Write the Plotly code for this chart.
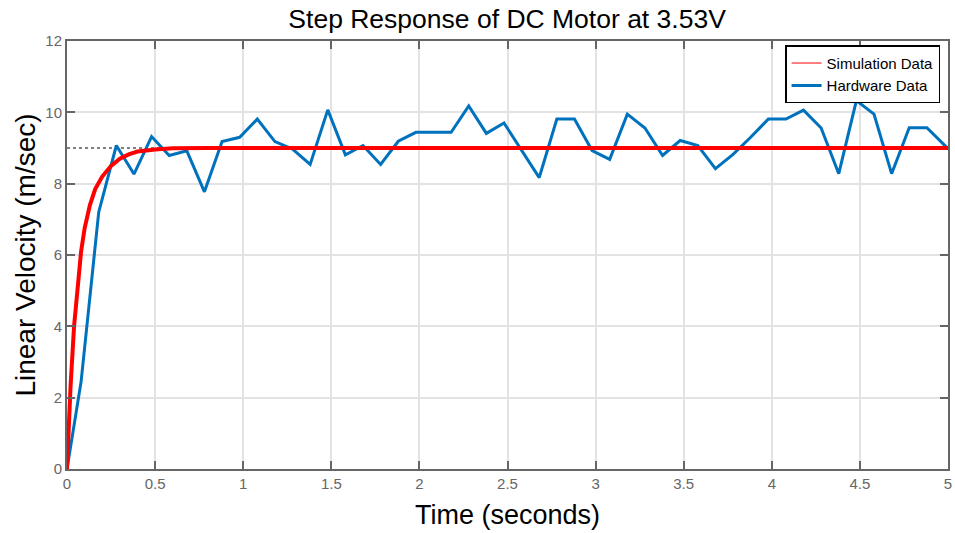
import plotly.graph_objects as go

# Hardware (measured) velocity samples
hw_time = [0.0, 0.08, 0.18, 0.28, 0.38, 0.48, 0.58, 0.68, 0.78, 0.88,
           0.98, 1.08, 1.18, 1.28, 1.38, 1.48, 1.58, 1.68, 1.78, 1.88,
           1.98, 2.08, 2.18, 2.28, 2.38, 2.48, 2.58, 2.68, 2.78, 2.88,
           2.98, 3.08, 3.18, 3.28, 3.38, 3.48, 3.58, 3.68, 3.78, 3.88,
           3.98, 4.08, 4.18, 4.28, 4.38, 4.48, 4.58, 4.68, 4.78, 4.88, 4.99]
hw_velocity = [0.0, 2.45, 7.2, 9.07, 8.27, 9.32, 8.79, 8.92, 7.77, 9.18,
               9.30, 9.81, 9.18, 8.97, 8.54, 10.07, 8.81, 9.07, 8.54, 9.19,
               9.44, 9.44, 9.44, 10.18, 9.41, 9.70, 8.95, 8.17, 9.81, 9.81,
               8.93, 8.68, 9.95, 9.56, 8.79, 9.21, 9.07, 8.42, 8.82, 9.30,
               9.81, 9.81, 10.06, 9.56, 8.28, 10.33, 9.95, 8.28, 9.57, 9.57, 9.03]

# Simulated motor response
sim_time = [0.0, 0.01, 0.02, 0.04, 0.06, 0.08, 0.1, 0.13, 0.16, 0.2,
            0.25, 0.3, 0.35, 0.4, 0.5, 0.6, 0.8, 1.0, 5.0]
sim_velocity = [0.0, 1.2, 2.3, 4.0, 5.2, 6.1, 6.75, 7.4, 7.85, 8.2,
                8.5, 8.7, 8.82, 8.9, 8.96, 8.99, 9.0, 9.0, 9.0]

# Steady-state reference
ss_time = [0.0, 1.07]
ss_value = [9.0, 9.0]

x_ticks = [0, 0.5, 1, 1.5, 2, 2.5, 3, 3.5, 4, 4.5, 5]
x_tick_text = ["0", "0.5", "1", "1.5", "2", "2.5", "3", "3.5", "4", "4.5", "5"]
y_ticks = [0, 2, 4, 6, 8, 10, 12]

RED = "#FF0000"
BLUE = "#0072BD"
AXIS = "#666666"
GRID = "#e3e3e3"
FONT = "Liberation Sans, Arial, sans-serif"

fig = go.Figure()

fig.add_trace(go.Scatter(
    x=ss_time, y=ss_value, mode="lines",
    line=dict(color="black", width=1, dash="dot"),
    showlegend=False, hoverinfo="skip"))

fig.add_trace(go.Scatter(
    x=hw_time, y=hw_velocity, mode="lines",
    line=dict(color=BLUE, width=3),
    name="Hardware Data", showlegend=False))

fig.add_trace(go.Scatter(
    x=sim_time, y=sim_velocity, mode="lines",
    line=dict(color=RED, width=4),
    name="Simulation Data", showlegend=False))

# Legend entries (thin red, thick blue)
fig.add_trace(go.Scatter(
    x=[None], y=[None], mode="lines",
    line=dict(color=RED, width=1), name="Simulation Data"))
fig.add_trace(go.Scatter(
    x=[None], y=[None], mode="lines",
    line=dict(color=BLUE, width=3), name="Hardware Data"))

axis_common = dict(
    showline=True, linecolor=AXIS, linewidth=2, mirror="ticks",
    ticks="inside", ticklen=8, tickwidth=2, tickcolor=AXIS,
    showgrid=True, gridcolor=GRID, gridwidth=2, zeroline=False,
    tickfont=dict(family=FONT, size=15, color=AXIS),
    automargin=False,
)

fig.update_xaxes(
    range=[0, 5], tickvals=x_ticks, ticktext=x_tick_text,
    title=dict(text="Time (seconds)", font=dict(family=FONT, size=27, color="black"), standoff=14),
    **axis_common)
fig.update_yaxes(
    range=[0, 12], tickvals=y_ticks,
    title=dict(text="Linear Velocity (m/sec)", font=dict(family=FONT, size=28, color="black"), standoff=2),
    **axis_common)

fig.update_layout(
    width=955, height=533,
    margin=dict(l=67, r=7, t=41, b=64),
    paper_bgcolor="white", plot_bgcolor="white",
    title=dict(text="Step Response of DC Motor at 3.53V",
               font=dict(family=FONT, size=26.5, color="black"),
               x=0.531, xanchor="center", y=0.965, yanchor="middle"),
    legend=dict(x=0.991, y=0.99, xanchor="right", yanchor="top",
                bgcolor="white", bordercolor="black", borderwidth=1.5,
                font=dict(family=FONT, size=15, color="black"),
                tracegroupgap=0, itemwidth=30),
    showlegend=True,
)

fig.write_html("out.html")
